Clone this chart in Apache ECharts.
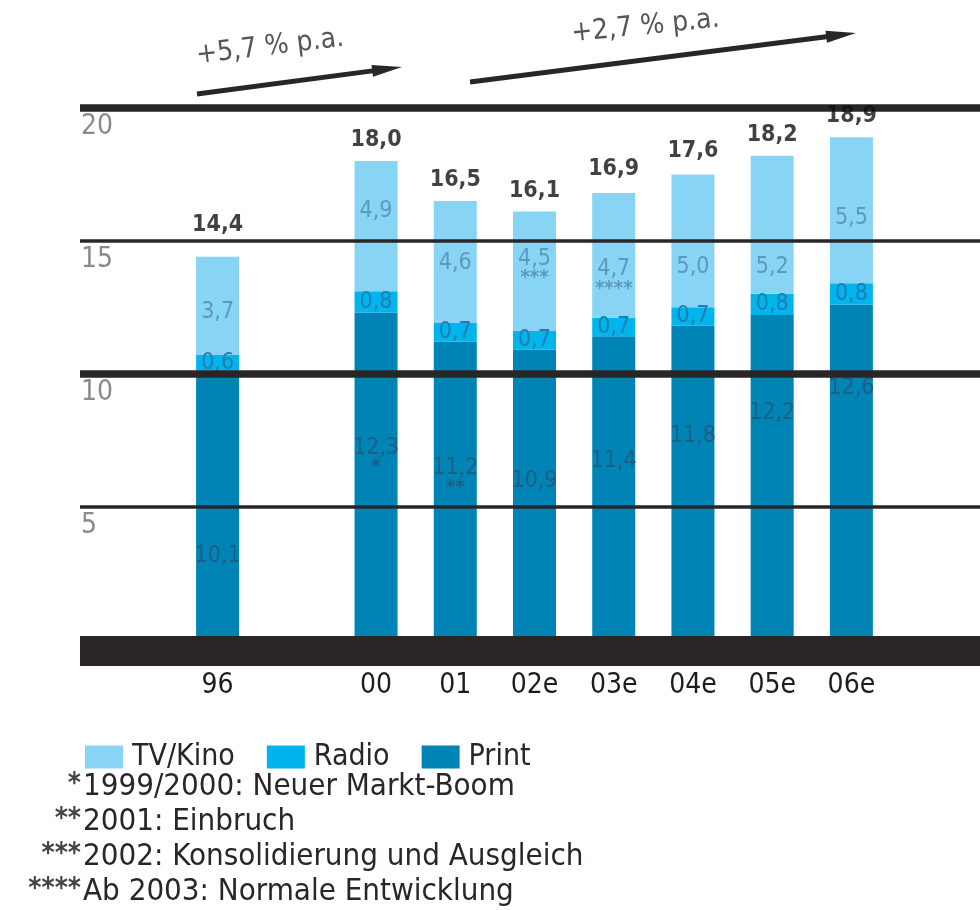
<!DOCTYPE html>
<html>
<head>
<meta charset="utf-8">
<script src="https://cdn.jsdelivr.net/npm/echarts@6/dist/echarts.min.js"></script>
<style>
  html, body { margin: 0; padding: 0; background: #ffffff; }
  #chart { width: 980px; height: 910px; }
</style>
</head>
<body>
<div id="chart"></div>
<script>
// Werbemarkt nach Mediengattungen (Mrd.), 1996 und 2000 bis 2006 (e = Schätzung)
const categories = ['96', '', '00', '01', '02e', '03e', '04e', '05e', '06e'];
const printValues = [10.1, null, 12.3, 11.2, 10.9, 11.4, 11.8, 12.2, 12.6];
const radioValues = [0.6, null, 0.8, 0.7, 0.7, 0.7, 0.7, 0.8, 0.8];
const tvValues = [3.7, null, 4.9, 4.6, 4.5, 4.7, 5.0, 5.2, 5.5];
const totals = [14.4, null, 18.0, 16.5, 16.1, 16.9, 17.6, 18.2, 18.9];
const printNotes = ['', '', '*', '**', '', '', '', '', ''];
const tvNotes = ['', '', '', '', '***', '****', '', '', ''];
const seriesNames = ['TV/Kino', 'Radio', 'Print'];
const growthTexts = ['+5,7 % p.a.', '+2,7 % p.a.'];
const footnoteMarks = ['*', '**', '***', '****'];
const footnoteTexts = [
  '1999/2000: Neuer Markt-Boom',
  '2001: Einbruch',
  '2002: Konsolidierung und Ausgleich',
  'Ab 2003: Normale Entwicklung'
];

const FONT = "'DejaVu Sans Condensed', 'Liberation Sans Narrow', 'DejaVu Sans', sans-serif";
const INK = '#2a2627';
const COLORS = { tv: '#88d4f5', radio: '#00b4ee', print: '#0084b5' };

// vertical nudges for the in-bar value labels
const printLabelShift = [51, 0, -21, -15, -13, -27, -46, -64, -84];
const tvLabelShift = [6, 0, -15, 1, -5, 21, 26, 42, 8];
const totalLabelDistance = [20, 0, 9, 9, 9, 9, 9, 9, 9];

const fmt = v => v.toFixed(1).replace('.', ',');

function segmentData(values, notes, shifts) {
  return values.map((v, i) => {
    if (v == null) return null;
    return {
      value: v,
      label: { offset: [0, shifts ? shifts[i] : 0] },
      note: notes ? notes[i] : ''
    };
  });
}

function segmentLabel(color) {
  return {
    show: true,
    position: 'inside',
    fontFamily: FONT,
    formatter: p => {
      const note = p.data.note;
      return note ? '{v|' + fmt(p.value) + '}\n{s|' + note + '}' : '{v|' + fmt(p.value) + '}';
    },
    rich: {
      v: { fontFamily: FONT, fontSize: 23, color: color, lineHeight: 24 },
      s: { fontFamily: FONT, fontSize: 20, color: color, lineHeight: 14, fontWeight: 'bold' }
    }
  };
}

// arrow annotation (shaft + head)
function arrow(x1, y1, x2, y2) {
  const dx = x2 - x1, dy = y2 - y1;
  const len = Math.sqrt(dx * dx + dy * dy);
  const ux = dx / len, uy = dy / len;
  const nx = -uy, ny = ux;
  const headLen = 30, headHalf = 6;
  const bx = x2 - ux * headLen, by = y2 - uy * headLen;
  return [
    { type: 'line', shape: { x1: x1, y1: y1, x2: bx + ux * 4, y2: by + uy * 4 },
      style: { stroke: INK, lineWidth: 5 }, z: 10 },
    { type: 'polygon', shape: { points: [[x2, y2], [bx + nx * headHalf, by + ny * headHalf], [bx - nx * headHalf, by - ny * headHalf]] },
      style: { fill: INK }, z: 10 }
  ];
}

const graphics = [];
graphics.push(...arrow(197, 94, 402, 67));
graphics.push(...arrow(470, 82, 856, 33));
graphics.push({
  type: 'text', x: 198, y: 70, rotation: 0.12, z: 10,
  style: { text: growthTexts[0], font: '28px ' + FONT, fill: '#555', textVerticalAlign: 'bottom' }
});
graphics.push({
  type: 'text', x: 573, y: 48, rotation: 0.1, z: 10,
  style: { text: growthTexts[1], font: '28px ' + FONT, fill: '#555', textVerticalAlign: 'bottom' }
});
footnoteMarks.forEach((m, i) => {
  const y = 787 + i * 35;
  graphics.push({
    type: 'text', x: 81, y: y - 2,
    style: { text: m, font: 'bold 28px ' + FONT, fill: '#444', textAlign: 'right', textVerticalAlign: 'middle' }
  });
  graphics.push({
    type: 'text', x: 83, y: y,
    style: { text: footnoteTexts[i], font: '31px ' + FONT, fill: INK, textAlign: 'left', textVerticalAlign: 'middle' }
  });
});

const chart = echarts.init(document.getElementById('chart'), null, { renderer: 'canvas' });

chart.setOption({
  animation: false,
  backgroundColor: '#ffffff',
  textStyle: { fontFamily: FONT },
  grid: [
    { left: 80, right: 0, top: 108, bottom: 271 },
    { left: 178, right: 89, top: 108, bottom: 271 }
  ],
  legend: {
    data: seriesNames,
    left: 80, top: 737,
    icon: 'rect',
    itemWidth: 38, itemHeight: 23, itemGap: 32,
    textStyle: { fontFamily: FONT, fontSize: 30, color: INK, padding: [0, 0, 0, 4] }
  },
  xAxis: [
    {
      gridIndex: 0, type: 'value', min: 0, max: 1, z: 5,
      position: 'bottom', offset: 12,
      axisLine: { show: true, onZero: false, lineStyle: { color: INK, width: 30, cap: 'butt' } },
      axisTick: { show: false }, axisLabel: { show: false }, splitLine: { show: false }
    },
    {
      gridIndex: 1, type: 'category', data: categories,
      axisLine: { show: false }, axisTick: { show: false }, splitLine: { show: false },
      axisLabel: { fontFamily: FONT, fontSize: 28, color: '#1e1b1c', margin: 33, interval: 0 }
    }
  ],
  yAxis: [
    {
      gridIndex: 0, type: 'value', min: 0, max: 20, interval: 5, z: 5,
      axisLine: { show: false }, axisTick: { show: false },
      splitLine: { show: true, lineStyle: { color: INK, width: 3.5 } },
      axisLabel: {
        inside: true, margin: 1, verticalAlign: 'top', padding: [5, 0, 0, 0],
        fontFamily: FONT, fontSize: 28, color: '#8a8a8a', showMinLabel: false
      }
    },
    {
      gridIndex: 0, type: 'value', min: 0, max: 20, interval: 10, z: 6,
      axisLine: { show: false }, axisTick: { show: false }, axisLabel: { show: false },
      splitLine: { show: true, showMinLine: false, lineStyle: { color: INK, width: 7.5 } }
    },
    {
      gridIndex: 1, type: 'value', min: 0, max: 20, show: false,
      splitLine: { show: false }
    }
  ],
  series: [
    {
      name: 'Print', type: 'bar', stack: 'medien', xAxisIndex: 1, yAxisIndex: 2,
      barWidth: 43, itemStyle: { color: COLORS.print },
      data: segmentData(printValues, printNotes, printLabelShift),
      label: segmentLabel('#1d5f86')
    },
    {
      name: 'Radio', type: 'bar', stack: 'medien', xAxisIndex: 1, yAxisIndex: 2,
      barWidth: 43, itemStyle: { color: COLORS.radio },
      data: segmentData(radioValues, null, null),
      label: segmentLabel('#1f7eae')
    },
    {
      name: 'TV/Kino', type: 'bar', stack: 'medien', xAxisIndex: 1, yAxisIndex: 2,
      barWidth: 43, itemStyle: { color: COLORS.tv },
      data: segmentData(tvValues, tvNotes, tvLabelShift),
      label: segmentLabel('#5d98bd')
    },
    {
      name: 'Summe', type: 'scatter', xAxisIndex: 1, yAxisIndex: 2,
      symbolSize: 1, itemStyle: { color: 'rgba(0,0,0,0)' }, silent: true, z: 8,
      data: totals.map((v, i) => v == null ? null : { value: v, label: { distance: totalLabelDistance[i] } }),
      label: {
        show: true, position: 'top',
        fontFamily: FONT, fontSize: 23, fontWeight: 'bold', color: '#111',
        formatter: p => fmt(p.value)
      }
    }
  ],
  graphic: graphics
});
</script>
</body>
</html>
